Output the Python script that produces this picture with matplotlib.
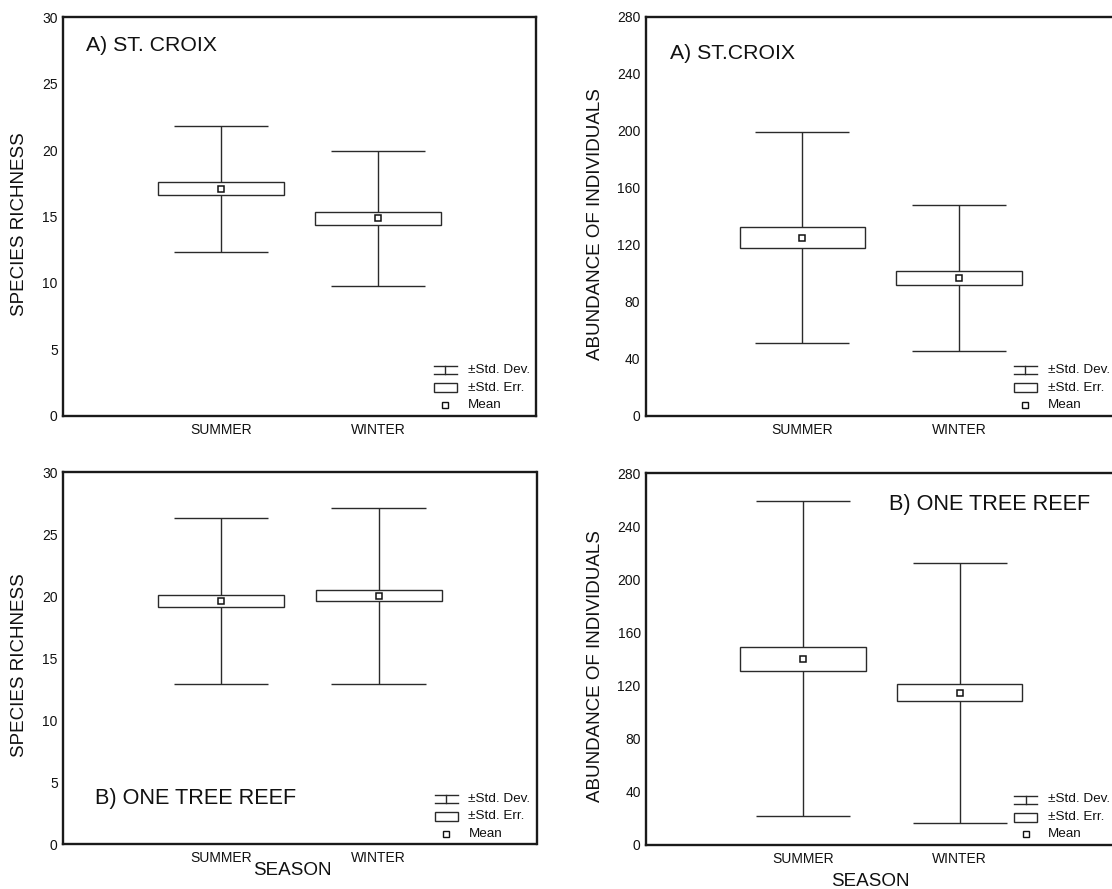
import matplotlib
matplotlib.use("Agg")
import matplotlib.pyplot as plt
from matplotlib.patches import Rectangle
from matplotlib.lines import Line2D

plt.rcParams['font.family'] = ['Liberation Sans', 'DejaVu Sans']

# ---------------- data ----------------
seasons = ["SUMMER", "WINTER"]

stcroix_rich_mean = [17.1, 14.85]
stcroix_rich_se = [0.48, 0.49]
stcroix_rich_sd = [4.75, 5.07]

stcroix_abund_mean = [124.9, 96.6]
stcroix_abund_se = [7.25, 5.0]
stcroix_abund_sd = [73.85, 51.2]

onetree_rich_mean = [19.62, 20.05]
onetree_rich_se = [0.5, 0.44]
onetree_rich_sd = [6.7, 7.11]

onetree_abund_mean = [140.3, 114.7]
onetree_abund_se = [9.05, 6.3]
onetree_abund_sd = [118.65, 97.8]

rich_ticks = [0, 5, 10, 15, 20, 25, 30]
abund_ticks = [0, 40, 80, 120, 160, 200, 240, 280]

legend_labels = ["\u00b1Std. Dev.", "\u00b1Std. Err.", "Mean"]

# ---------------- figure ----------------
W, H = 1112, 889
fig = plt.figure(figsize=(W / 100, H / 100), dpi=100)


def px_axes(left, top, right, bottom):
    return fig.add_axes([left / W, (H - bottom) / H, (right - left) / W, (bottom - top) / H])


ax_tl = px_axes(63.3, 17.3, 535.7, 415.7)
ax_tr = px_axes(645.7, 16.7, 1115.7, 415.7)
ax_bl = px_axes(63.3, 472.3, 536.5, 844.3)
ax_br = px_axes(646.3, 473.3, 1116.3, 845.0)

LINE = '#2a2a2a'
SPINE = '#1a1a1a'
TXT = '#111111'


def draw_panel(ax, means, ses, sds, yticks, ylabel, ylab_x):
    pos = list(range(1, len(means) + 1))
    lo_sd = [m - s for m, s in zip(means, sds)]
    hi_sd = [m + s for m, s in zip(means, sds)]
    lo_se = [m - s for m, s in zip(means, ses)]
    # whiskers (std. dev.)
    ax.vlines(pos, lo_sd, hi_sd, color=LINE, lw=1.0, zorder=1)
    for p, lo, hi in zip(pos, lo_sd, hi_sd):
        ax.hlines([lo, hi], p - 0.3, p + 0.3, color=LINE, lw=1.0, zorder=1)
    # std. err. boxes
    ax.bar(pos, [2 * s for s in ses], bottom=lo_se, width=0.8,
           facecolor='white', edgecolor=LINE, linewidth=1.0, zorder=2)
    # means
    ax.plot(pos, means, linestyle='none', marker='s', markersize=4.6,
            markerfacecolor='white', markeredgecolor=TXT,
            markeredgewidth=1.1, zorder=3)
    ax.set_xlim(0, len(means) + 1)
    ax.set_ylim(yticks[0], yticks[-1])
    ax.set_yticks(yticks)
    ax.set_yticklabels([str(t) for t in yticks])
    ax.set_xticks(pos)
    ax.set_xticklabels(seasons)
    ax.tick_params(axis='both', length=0, labelsize=10, colors=TXT)
    ax.tick_params(axis='y', pad=4)
    ax.tick_params(axis='x', pad=5)
    for sp in ax.spines.values():
        sp.set_color(SPINE)
        sp.set_linewidth(1.7)
    ax.text(ylab_x, 0.481, ylabel, transform=ax.transAxes, rotation=90,
            ha='center', va='center', fontsize=13.5, color=TXT)


def draw_legend(ax, row_dy):
    # Legend drawn in figure pixels, offset from the axes' lower-right corner
    bx, by = ax.transAxes.transform((1, 0))
    x0, x1 = -102.0, -79.0
    xm = (x0 + x1) / 2

    def seg(xs, ys):
        fig.add_artist(Line2D([(bx + xs[0]) / W, (bx + xs[1]) / W],
                              [(by + ys[0]) / H, (by + ys[1]) / H],
                              transform=fig.transFigure, color=LINE, lw=1.0))

    y = row_dy[0]
    seg([x0, x1], [y + 4, y + 4])
    seg([x0, x1], [y - 4, y - 4])
    seg([xm, xm], [y - 4, y + 4])

    y = row_dy[1]
    fig.add_artist(Rectangle(((bx + x0) / W, (by + y - 4.5) / H), (x1 - x0) / W, 9 / H,
                             transform=fig.transFigure, facecolor='white',
                             edgecolor=LINE, lw=1.0))
    y = row_dy[2]
    fig.add_artist(Line2D([(bx + xm) / W], [(by + y) / H], transform=fig.transFigure,
                          linestyle='none', marker='s', markersize=4.2,
                          markerfacecolor='white', markeredgecolor=TXT,
                          markeredgewidth=1.0))
    for lab, dy in zip(legend_labels, row_dy):
        fig.text((bx - 68.0) / W, (by + dy) / H, lab, ha='left', va='center',
                 fontsize=9.7, color=TXT)


draw_panel(ax_tl, stcroix_rich_mean, stcroix_rich_se, stcroix_rich_sd,
           rich_ticks, "SPECIES RICHNESS", -0.0925)
draw_panel(ax_tr, stcroix_abund_mean, stcroix_abund_se, stcroix_abund_sd,
           abund_ticks, "ABUNDANCE OF INDIVIDUALS", -0.1074)
draw_panel(ax_bl, onetree_rich_mean, onetree_rich_se, onetree_rich_sd,
           rich_ticks, "SPECIES RICHNESS", -0.0925)
draw_panel(ax_br, onetree_abund_mean, onetree_abund_se, onetree_abund_sd,
           abund_ticks, "ABUNDANCE OF INDIVIDUALS", -0.1074)

for ax in (ax_tl, ax_tr, ax_bl, ax_br):
    draw_legend(ax, [45.5, 28.0, 10.7])

# panel titles
ax_tl.text(0.0474, 0.9287, "A) ST. CROIX", transform=ax_tl.transAxes,
           ha='left', va='center', fontsize=15.3, color=TXT)
ax_tr.text(0.0517, 0.908, "A) ST.CROIX", transform=ax_tr.transAxes,
           ha='left', va='center', fontsize=15.3, color=TXT)
ax_bl.text(0.066, 0.124, "B) ONE TREE REEF", transform=ax_bl.transAxes,
           ha='left', va='center', fontsize=15.6, color=TXT)
ax_br.text(0.516, 0.9166, "B) ONE TREE REEF", transform=ax_br.transAxes,
           ha='left', va='center', fontsize=15.6, color=TXT)

# x-axis titles
ax_bl.text(0.485, -0.071, "SEASON", transform=ax_bl.transAxes,
           ha='center', va='center', fontsize=13.6, color=TXT)
ax_br.text(0.476, -0.0987, "SEASON", transform=ax_br.transAxes,
           ha='center', va='center', fontsize=13.6, color=TXT)

fig.savefig("out.png", dpi=100, facecolor='white')
